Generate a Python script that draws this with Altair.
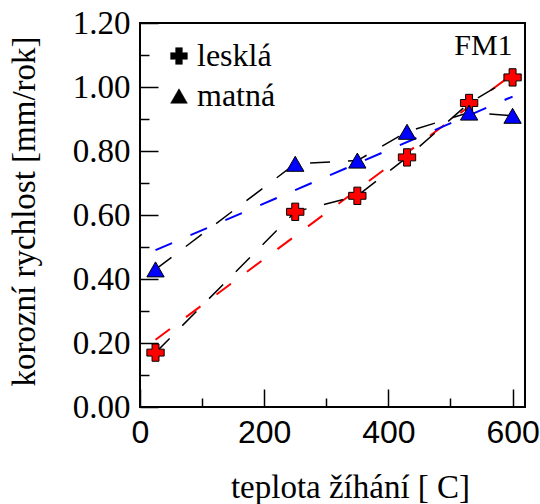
import altair as alt
import pandas as pd

# ---- data ----
temp = [25, 250, 350, 430, 530, 600]
leskla = [0.17, 0.61, 0.66, 0.78, 0.95, 1.03]
matna = [0.43, 0.76, 0.77, 0.86, 0.92, 0.91]
series_names = ["lesklá", "matná"]
series_colors = ["#ff0000", "#0000ff"]
series_shapes = ["cross", "triangle-up"]

trend_x = [25, 600]
trend_leskla = [0.21, 1.04]
trend_matna = [0.49, 0.97]

x_major = [0, 200, 400, 600]
x_minor = [100, 300, 500]
y_major = [0.0, 0.2, 0.4, 0.6, 0.8, 1.0, 1.2]
y_minor = [0.1, 0.3, 0.5, 0.7, 0.9, 1.1]

note_text = ["FM1"]
note_x = [600]
note_y = [1.1]

# ---- tables ----
series_col = [series_names[0]] * len(temp) + [series_names[1]] * len(temp)
pts = pd.DataFrame({
    "t": temp + temp,
    "v": leskla + matna,
    "series": series_col,
    "kind": series_col,
})
trend = pd.DataFrame({
    "t": trend_x + trend_x,
    "v": trend_leskla + trend_matna,
    "series": [series_names[0]] * 2 + [series_names[1]] * 2,
})
note = pd.DataFrame({"t": note_x, "v": note_y, "txt": note_text})

serif = "Liberation Serif"
sans = "Liberation Sans"
FS = 33
FSX = 32

xscale = alt.Scale(domain=[0, 620], nice=False, zero=False)
yscale = alt.Scale(domain=[0, 1.2], nice=False, zero=False)
cscale = alt.Scale(domain=series_names, range=series_colors)


def tick_axis(orient, values, size):
    return alt.Axis(orient=orient, values=values, labels=False, ticks=True,
                    tickSize=size, offset=-size, domain=False, grid=False,
                    title=None, tickColor="black", tickWidth=1.5)


trend_layer = alt.Chart(trend).mark_line(strokeWidth=2, strokeDash=[18, 20]).encode(
    x=alt.X("t:Q", scale=xscale, axis=tick_axis("bottom", x_minor, 9)),
    y=alt.Y("v:Q", scale=yscale, axis=tick_axis("left", y_minor, 9)),
    color=alt.Color("series:N", scale=cscale, legend=None),
    detail="series:N",
)

conn_layer = alt.Chart(pts).mark_line(color="black", strokeWidth=1.5, strokeDash=[20, 18]).encode(
    x=alt.X("t:Q", scale=xscale, axis=tick_axis("bottom", x_major, 18)),
    y=alt.Y("v:Q", scale=yscale, axis=tick_axis("left", y_major, 18)),
    detail="series:N",
)

pt_layer = alt.Chart(pts).mark_point(filled=True, opacity=1, stroke="black", strokeWidth=1, size=300).encode(
    x=alt.X("t:Q", scale=xscale, axis=alt.Axis(
        orient="bottom", values=x_major, ticks=False, tickSize=0, domain=False, grid=False,
        labelFont=sans, labelFontSize=FSX, labelColor="black", labelPadding=10, labelFlush=False,
        title="teplota žíhání [ C]", titleFont=serif, titleFontSize=FS, titleFontWeight="normal",
        titleColor="black", titleX=210, titleY=90, titleBaseline="alphabetic")),
    y=alt.Y("v:Q", scale=yscale, axis=alt.Axis(
        orient="left", values=y_major, format=".2f", ticks=False, tickSize=0, domain=False, grid=False,
        labelFont=serif, labelFontSize=FS, labelColor="black", labelPadding=10, labelFlush=False,
        title="korozní rychlost [mm/rok]", titleFont=serif, titleFontSize=FS, titleFontWeight="normal",
        titleColor="black", titleX=-116, titleY=188, titleBaseline="middle", titleAngle=270)),
    color=alt.Color("series:N", scale=cscale, legend=None),
    shape=alt.Shape("kind:N", scale=alt.Scale(range=series_shapes),
                    legend=alt.Legend(title=None, orient="none", legendX=23, legendY=17, padding=0,
                                      symbolOffset=0,
                                      labelFont=serif, labelFontSize=FSX, labelColor="black",
                                      symbolFillColor="black", symbolStrokeColor="black",
                                      symbolOpacity=1, symbolStrokeWidth=0.5,
                                      symbolSize=280, rowPadding=8,
                                      labelOffset=2)),
)

note_layer = alt.Chart(note).mark_text(align="right", baseline="alphabetic", font=serif,
                                       fontSize=30, color="black").encode(
    x=alt.X("t:Q", scale=xscale, axis=None),
    y=alt.Y("v:Q", scale=yscale, axis=None),
    text="txt:N",
)

chart = alt.layer(trend_layer, conn_layer, pt_layer, note_layer).resolve_axis(
    x="independent", y="independent"
).properties(
    width=385, height=384,
    autosize=alt.AutoSizeParams(type="none"),
    padding={"left": 140, "top": 23, "right": 15, "bottom": 97},
    background="white",
).configure_view(
    stroke="black", strokeWidth=2
)

chart.save("out.html", embed_options={"renderer": "svg", "actions": False})
